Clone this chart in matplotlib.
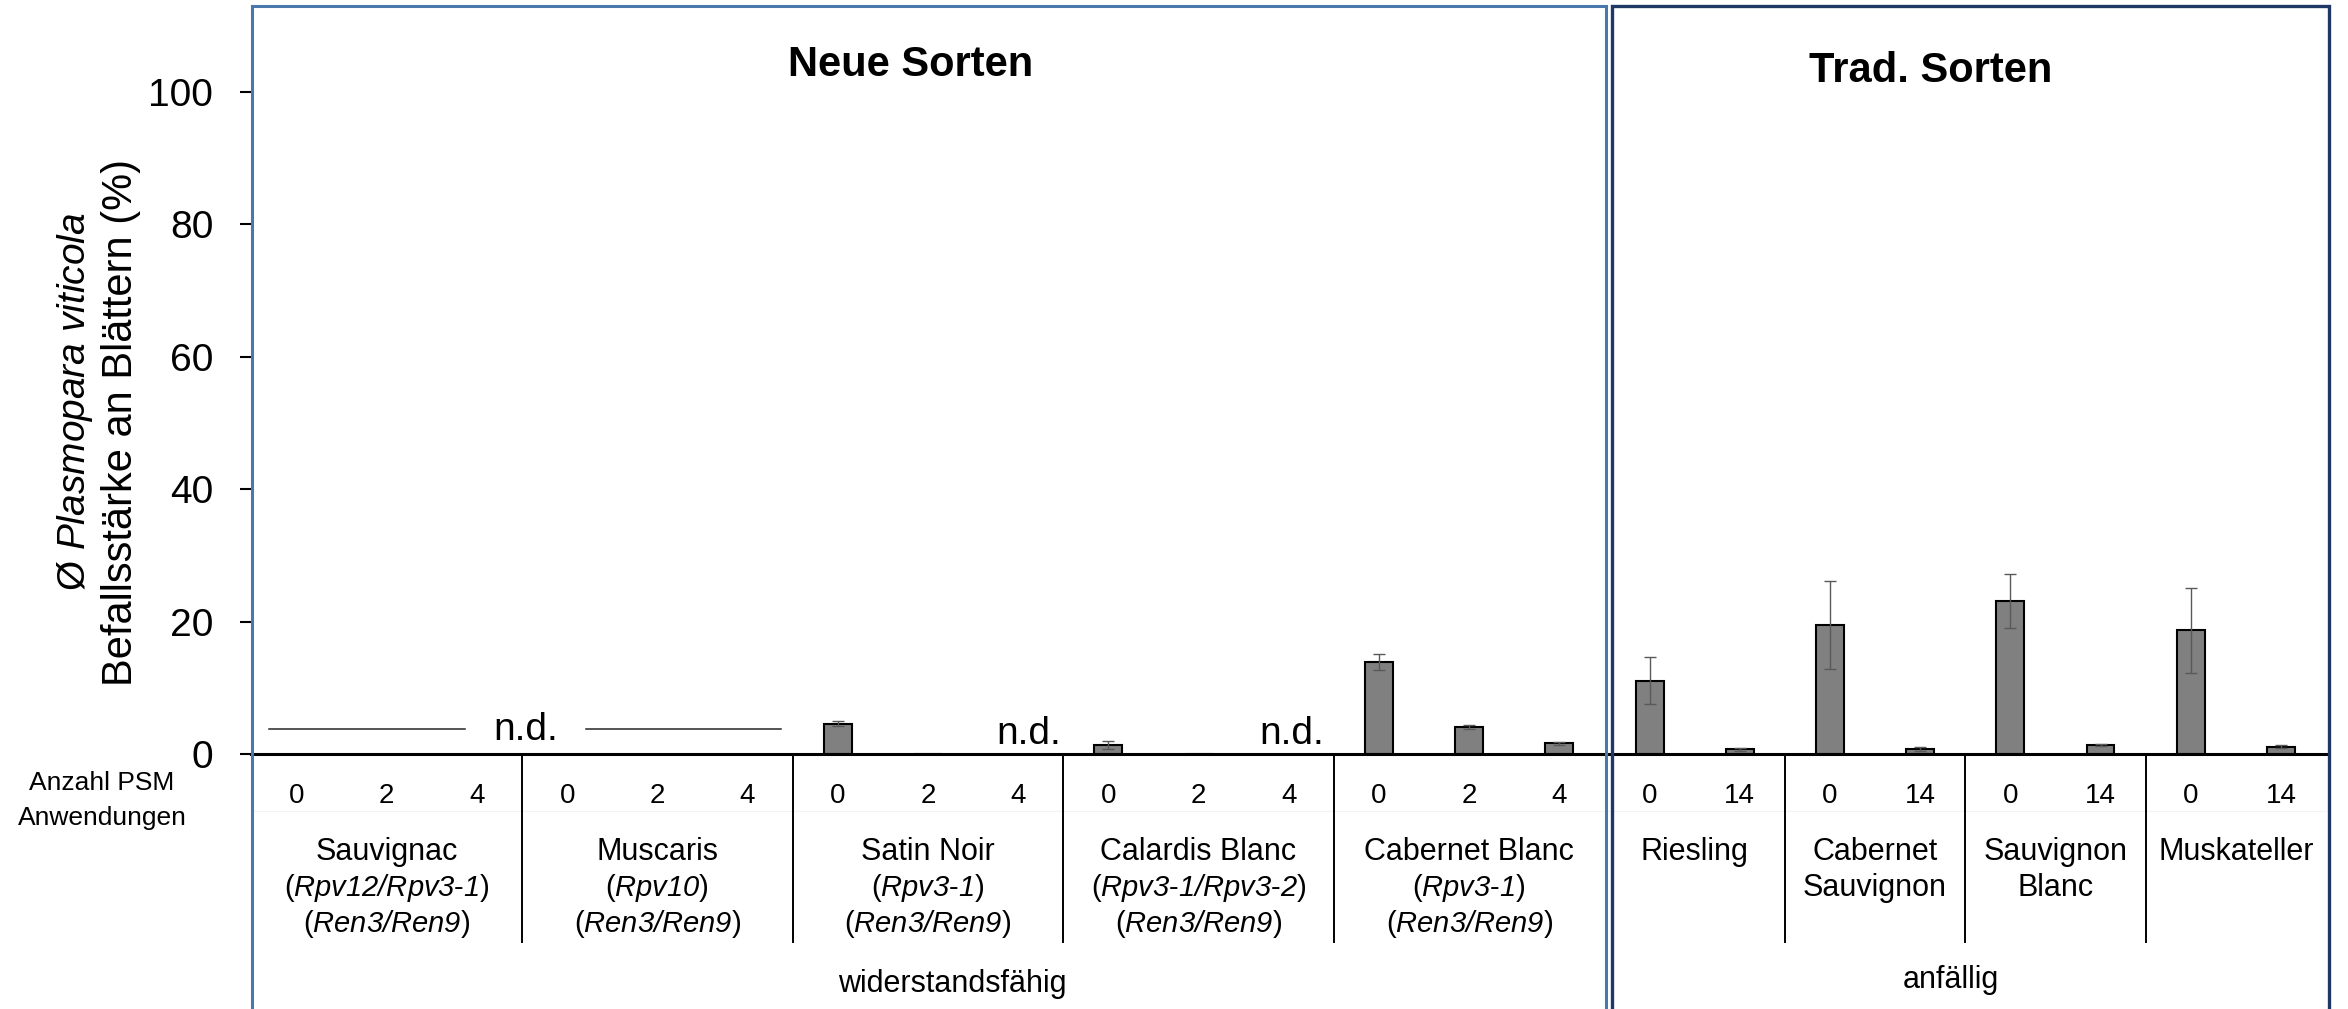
import matplotlib

matplotlib.use("Agg")
import matplotlib.pyplot as plt
import numpy as np
from matplotlib.patches import Rectangle
from matplotlib.transforms import blended_transform_factory

plt.rcParams["font.family"] = ["Liberation Sans", "DejaVu Sans"]
plt.rcParams["mathtext.fontset"] = "custom"
plt.rcParams["mathtext.rm"] = "Liberation Sans"
plt.rcParams["mathtext.it"] = "Liberation Sans:italic"
# sf als kursive Schrift nutzen, damit auch Ziffern kursiv werden
plt.rcParams["mathtext.sf"] = "Liberation Sans:italic"
plt.rcParams["mathtext.bf"] = "Liberation Sans:bold"

# --- Daten -----------------------------------------------------------------
neue_sorten = ["Sauvignac", "Muscaris", "Satin Noir", "Calardis Blanc", "Cabernet Blanc"]
neue_rpv = ["Rpv12/Rpv3-1", "Rpv10", "Rpv3-1", "Rpv3-1/Rpv3-2", "Rpv3-1"]
neue_ren = ["Ren3/Ren9", "Ren3/Ren9", "Ren3/Ren9", "Ren3/Ren9", "Ren3/Ren9"]
neue_psm = ["0", "2", "4"]
# nan = n.d.
neue_mean = [
    [np.nan, np.nan, np.nan],
    [np.nan, np.nan, np.nan],
    [4.6, 0.05, np.nan],
    [1.4, 0.05, np.nan],
    [13.9, 4.1, 1.6],
]
neue_err = [
    [np.nan, np.nan, np.nan],
    [np.nan, np.nan, np.nan],
    [0.35, 0.0, np.nan],
    [0.6, 0.0, np.nan],
    [1.25, 0.3, 0.25],
]

trad_sorten = [["Riesling"], ["Cabernet", "Sauvignon"], ["Sauvignon", "Blanc"], ["Muskateller"]]
trad_psm = ["0", "14"]
trad_mean = [[11.1, 0.7], [19.5, 0.8], [23.1, 1.35], [18.7, 1.1]]
trad_err = [[3.5, 0.2], [6.7, 0.3], [4.1, 0.15], [6.4, 0.2]]

W, H, DPI = 2348, 1009, 100


def fx(px):
    return px / W


def fy(py):
    return 1 - py / H


def rpv_label(s):
    # kursive Gennamen, Bindestrich und Klammern aufrecht
    parts = s.split("-")
    body = r"\text{-}".join(r"\mathsf{%s}" % p for p in parts)
    return "($%s$)" % body


fig = plt.figure(figsize=(W / DPI, H / DPI), dpi=DPI)
ax = fig.add_axes([fx(251.5), fy(754), fx(2326) - fx(251.5), (754 - 6) / H])

# Slot-Positionen
x_all, y_all, e_all = [], [], []
slot = 0
neue_groups = []
for i in range(len(neue_sorten)):
    xs = []
    for j in range(len(neue_psm)):
        x_all.append(slot)
        y_all.append(neue_mean[i][j])
        e_all.append(neue_err[i][j])
        xs.append(slot)
        slot += 1
    neue_groups.append(xs)
trad_groups = []
for i in range(len(trad_sorten)):
    xs = []
    for j in range(len(trad_psm)):
        x_all.append(slot)
        y_all.append(trad_mean[i][j])
        e_all.append(trad_err[i][j])
        xs.append(slot)
        slot += 1
    trad_groups.append(xs)

x_all = np.array(x_all, dtype=float)
y_all = np.array(y_all, dtype=float)
e_all = np.array(e_all, dtype=float)
ok = ~np.isnan(y_all)

ax.bar(x_all[ok], y_all[ok], width=0.31, color="#808080", edgecolor="black", linewidth=1.5, zorder=2)
has_err = ok & (e_all > 0)
ax.errorbar(x_all[has_err], y_all[has_err], yerr=e_all[has_err], fmt="none",
            ecolor="#595959", elinewidth=1.0, capsize=4.3, capthick=1.0, zorder=3)

ax.set_xlim(-0.5, slot - 0.5)
ax.set_ylim(0, 113)
ax.set_yticks(range(0, 101, 20))
ax.tick_params(axis="y", labelsize=28, length=8.6, width=1.5, pad=19)
ax.set_xticks([])
for side in ("top", "right", "left"):
    ax.spines[side].set_visible(False)
ax.spines["bottom"].set_linewidth(2.2)
ax.spines["bottom"].set_zorder(4)

# n.d. Kennzeichnung
ax.plot([-0.306, 1.867], [3.85, 3.85], color="#262626", lw=1.1)
ax.plot([3.208, 5.37], [3.85, 3.85], color="#262626", lw=1.1)
ax.text(2.54, 2.1, "n.d.", ha="center", va="baseline", fontsize=28)
ax.text(8.12, 1.5, "n.d.", ha="center", va="baseline", fontsize=28)
ax.text(11.03, 1.5, "n.d.", ha="center", va="baseline", fontsize=28)

# Beschriftung unter der Achse
tr = blended_transform_factory(ax.transData, fig.transFigure)
for i, xs in enumerate(neue_groups):
    for j, x in enumerate(xs):
        ax.text(x, fy(803), neue_psm[j], transform=tr, ha="center", va="baseline", fontsize=20)
    cx = np.mean(xs)
    ax.text(cx, fy(860), neue_sorten[i], transform=tr, ha="center", va="baseline", fontsize=22)
    ax.text(cx, fy(896), rpv_label(neue_rpv[i]), transform=tr, ha="center", va="baseline", fontsize=21)
    ax.text(cx, fy(932), rpv_label(neue_ren[i]), transform=tr, ha="center", va="baseline", fontsize=21)
for i, xs in enumerate(trad_groups):
    for j, x in enumerate(xs):
        ax.text(x, fy(803), trad_psm[j], transform=tr, ha="center", va="baseline", fontsize=20)
    cx = np.mean(xs)
    for k, line in enumerate(trad_sorten[i]):
        ax.text(cx, fy(860 + 36 * k), line, transform=tr, ha="center", va="baseline", fontsize=22)

# Trennlinien zwischen den Sorten
seps = [xs[-1] + 0.5 for xs in neue_groups[:-1]] + [xs[-1] + 0.5 for xs in trad_groups[:-1]]
for s in seps:
    ax.plot([s, s], [fy(754), fy(942)], transform=tr, color="black", lw=1.4, clip_on=False)

ax.plot([-0.5, slot - 0.5], [fy(811), fy(811)], transform=tr, color="#f3f3f3", lw=0.8, clip_on=False, zorder=0)

ax.text(7.27, fy(992), "widerstandsfähig", transform=tr, ha="center", va="baseline", fontsize=22)
ax.text(18.34, fy(988), "anfällig", transform=tr, ha="center", va="baseline", fontsize=22)

fig.text(fx(102), fy(790), "Anzahl PSM", ha="center", va="baseline", fontsize=19)
fig.text(fx(102), fy(825), "Anwendungen", ha="center", va="baseline", fontsize=19)

# Y-Achsentitel
fig.text(fx(75), fy(402), r"Ø $\mathsf{Plasmopara\ viticola}$", rotation=90,
         ha="center", va="center", fontsize=28)
fig.text(fx(121), fy(423), "Befallsstärke an Blättern (%)", rotation=90,
         ha="center", va="center", fontsize=30)

# Rahmen Neue / Trad. Sorten
fig.add_artist(Rectangle((fx(252), fy(1030)), fx(1606) - fx(252), (1030 - 6) / H,
                         transform=fig.transFigure, fill=False, edgecolor="#4a78ad", lw=2.2, zorder=5))
fig.add_artist(Rectangle((fx(1612), fy(1030)), fx(2329) - fx(1612), (1030 - 6) / H,
                         transform=fig.transFigure, fill=False, edgecolor="#1f3866", lw=2.4, zorder=5))

fig.text(fx(911), fy(76), "Neue Sorten", ha="center", va="baseline", fontsize=30, fontweight="bold")
fig.text(fx(1931), fy(82), "Trad. Sorten", ha="center", va="baseline", fontsize=30, fontweight="bold")

fig.savefig("out.png", dpi=DPI)
